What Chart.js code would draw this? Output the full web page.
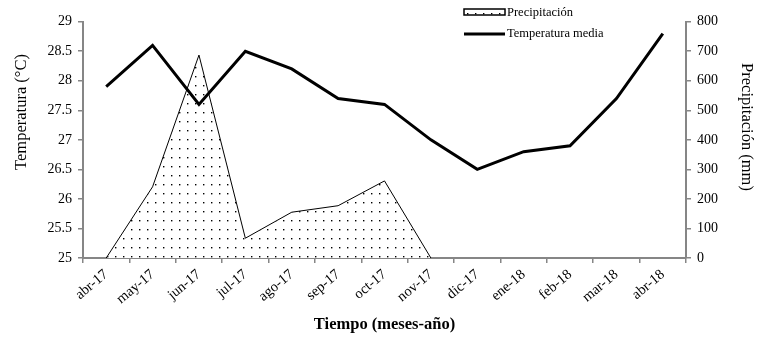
<!DOCTYPE html>
<html>
<head>
<meta charset="utf-8">
<script src="https://cdn.jsdelivr.net/npm/chart.js@4.4.0/dist/chart.umd.min.js"></script>
<style>
html,body{margin:0;padding:0;background:#fff;}
#wrap{width:768px;height:346px;position:relative;}
</style>
</head>
<body>
<div id="wrap"><canvas id="c" width="768" height="346"></canvas></div>
<script>
const categories = ["abr-17","may-17","jun-17","jul-17","ago-17","sep-17","oct-17","nov-17","dic-17","ene-18","feb-18","mar-18","abr-18"];
const temperatura = [27.9, 28.6, 27.6, 28.5, 28.2, 27.7, 27.6, 27.0, 26.5, 26.8, 26.9, 27.7, 28.8];
const precipitacion = [0, 241, 687, 67, 155, 177, 261, 0, null, null, null, null, null];
const tempTicks = [25, 25.5, 26, 26.5, 27, 27.5, 28, 28.5, 29];
const precTicks = [0, 100, 200, 300, 400, 500, 600, 700, 800];
const leftTitle = 'Temperatura (°C)';
const rightTitle = 'Precipitación (mm)';
const xTitle = 'Tiempo (meses-año)';

function dotPattern(){
  const pc = document.createElement('canvas');
  pc.width = 8; pc.height = 9;
  const g = pc.getContext('2d');
  g.fillStyle = '#ffffff';
  g.fillRect(0,0,8,9);
  g.fillStyle = '#000000';
  g.fillRect(3,4,1.4,1.4);
  return g.createPattern(pc, 'repeat');
}
const ctx = document.getElementById('c').getContext('2d');
const pattern = dotPattern();
const serif = "'Liberation Serif', 'Times New Roman', serif";
const axisGray = '#868686';

const legendPlugin = {
  id: 'customLegend',
  afterDraw(chart){
    const c = chart.ctx;
    const ds = chart.data.datasets;
    c.save();
    c.fillStyle = pattern;
    c.fillRect(464, 9, 41, 6);
    c.strokeStyle = '#000';
    c.lineWidth = 1.5;
    c.strokeRect(464, 9, 41, 6);
    c.font = "12.5px " + serif;
    c.fillStyle = '#000';
    c.textBaseline = 'middle';
    c.fillText(ds[1].label, 507, 12.5);
    c.beginPath();
    c.moveTo(464, 34);
    c.lineTo(505, 34);
    c.lineWidth = 3;
    c.stroke();
    c.fillText(ds[0].label, 507, 34);
    // vertical axis titles
    c.font = "16.5px " + serif;
    c.textAlign = 'center';
    c.save();
    c.translate(22, 112);
    c.rotate(-Math.PI / 2);
    c.fillText(leftTitle, 0, 0);
    c.restore();
    c.save();
    c.translate(746, 127);
    c.rotate(Math.PI / 2);
    c.fillText(rightTitle, 0, 0);
    c.restore();
    c.restore();
  }
};

new Chart(ctx, {
  type: 'line',
  data: {
    labels: categories,
    datasets: [
      {
        label: 'Temperatura media',
        data: temperatura,
        yAxisID: 'yT',
        borderColor: '#000',
        borderWidth: 3,
        pointRadius: 0,
        tension: 0,
        fill: false
      },
      {
        label: 'Precipitación',
        data: precipitacion,
        yAxisID: 'yP',
        borderColor: '#000',
        borderWidth: 1,
        pointRadius: 0,
        tension: 0,
        backgroundColor: pattern,
        fill: 'origin',
        spanGaps: false
      }
    ]
  },
  options: {
    responsive: false,
    animation: false,
    devicePixelRatio: 1,
    layout: { padding: { top: 21.7, left: 0, right: 0, bottom: 0 } },
    plugins: { legend: { display: false }, tooltip: { enabled: false } },
    scales: {
      x: {
        type: 'category',
        offset: true,
        afterFit(s){ s.height = 88; },
        grid: { display: true, offset: true, drawOnChartArea: false, drawTicks: true, tickLength: 5, color: axisGray, lineWidth: 1.5 },
        border: { display: true, color: axisGray, width: 2 },
        ticks: { color: '#000', font: { family: serif, size: 14.5 }, minRotation: 40, maxRotation: 40, padding: 3, autoSkip: false },
        title: { display: true, text: xTitle, color: '#000', font: { family: serif, size: 16.5, weight: 'bold' }, padding: { top: 0, bottom: 11 } }
      },
      yT: {
        type: 'linear',
        position: 'left',
        min: 25, max: 29,
        afterFit(s){ s.width = 83; },
        afterBuildTicks(s){ s.ticks = tempTicks.map(v => ({ value: v })); },
        grid: { display: true, drawOnChartArea: false, drawTicks: true, tickLength: 5, color: axisGray, lineWidth: 1.5 },
        border: { display: true, color: axisGray, width: 2 },
        ticks: { color: '#000', font: { family: serif, size: 14 }, padding: 6, callback: v => String(v) },
        title: { display: false }
      },
      yP: {
        type: 'linear',
        position: 'right',
        min: 0, max: 800,
        afterFit(s){ s.width = 82; },
        afterBuildTicks(s){ s.ticks = precTicks.map(v => ({ value: v })); },
        grid: { display: true, drawOnChartArea: false, drawTicks: true, tickLength: 5, color: axisGray, lineWidth: 1.5 },
        border: { display: true, color: axisGray, width: 2 },
        ticks: { color: '#000', font: { family: serif, size: 14 }, padding: 6, callback: v => String(v) },
        title: { display: false }
      }
    }
  },
  plugins: [legendPlugin]
});
</script>
</body>
</html>
